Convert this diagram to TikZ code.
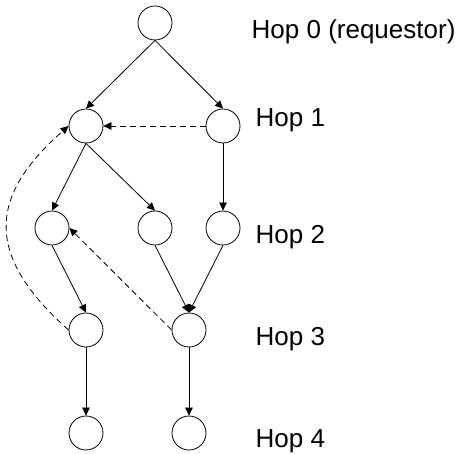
\documentclass[tikz,border=0pt]{standalone}
\usepackage{fontspec}
\setmainfont{Liberation Sans}
\usetikzlibrary{arrows.meta}
\tikzset{
  hopnode/.style={circle,draw,line width=0.8pt,minimum size=34pt,inner sep=0pt},
  hoplabel/.style={anchor=base west,inner sep=0pt,font=\fontsize{26}{30}\selectfont},
  edge/.style={line width=0.8pt,-{Triangle[length=8pt,width=7.5pt]}},
  backedge/.style={edge,dash pattern=on 6pt off 4pt}
}
\begin{document}
\begin{tikzpicture}[x=1pt,y=-1pt]
\useasboundingbox (0,0) rectangle (461,454);
\node[hopnode] (a) at (155,23) {};
\node[hopnode] (b1) at (86,126) {};
\node[hopnode] (b2) at (223,126) {};
\node[hopnode] (c1) at (52,228) {};
\node[hopnode] (c2) at (155,228) {};
\node[hopnode] (c3) at (223,228) {};
\node[hopnode] (d1) at (86,330) {};
\node[hopnode] (d2) at (189,330) {};
\node[hopnode] (e1) at (86,433) {};
\node[hopnode] (e2) at (189,433) {};
\node[hoplabel] (l0) at (251.5,39) {Hop 0 (requestor)};
\node[hoplabel] (l1) at (255.5,127) {Hop 1};
\node[hoplabel] (l2) at (255.5,244) {Hop 2};
\node[hoplabel] (l3) at (255.5,346) {Hop 3};
\node[hoplabel] (l4) at (255.5,448) {Hop 4};
\draw[edge] (a.south) -- (b1.north);
\draw[edge] (a.south) -- (b2.north);
\draw[backedge] (b2.west) -- (b1.east);
\draw[edge] (b1.south) -- (c1.north);
\draw[edge] (b1.south) -- (c2.north);
\draw[edge] (b2.south) -- (c3.north);
\draw[edge] (c1.south) -- (d1.north);
\draw[edge] (c2.south) -- (d2.north);
\draw[edge] (c3.south) -- (d2.north);
\draw[backedge] (d2.west) -- (c1.east);
\draw[backedge] (d1.west) .. controls (-13.7,257) and (-13.7,198) .. (b1.west);
\draw[edge] (d1.south) -- (e1.north);
\draw[edge] (d2.south) -- (e2.north);
\end{tikzpicture}
\end{document}
